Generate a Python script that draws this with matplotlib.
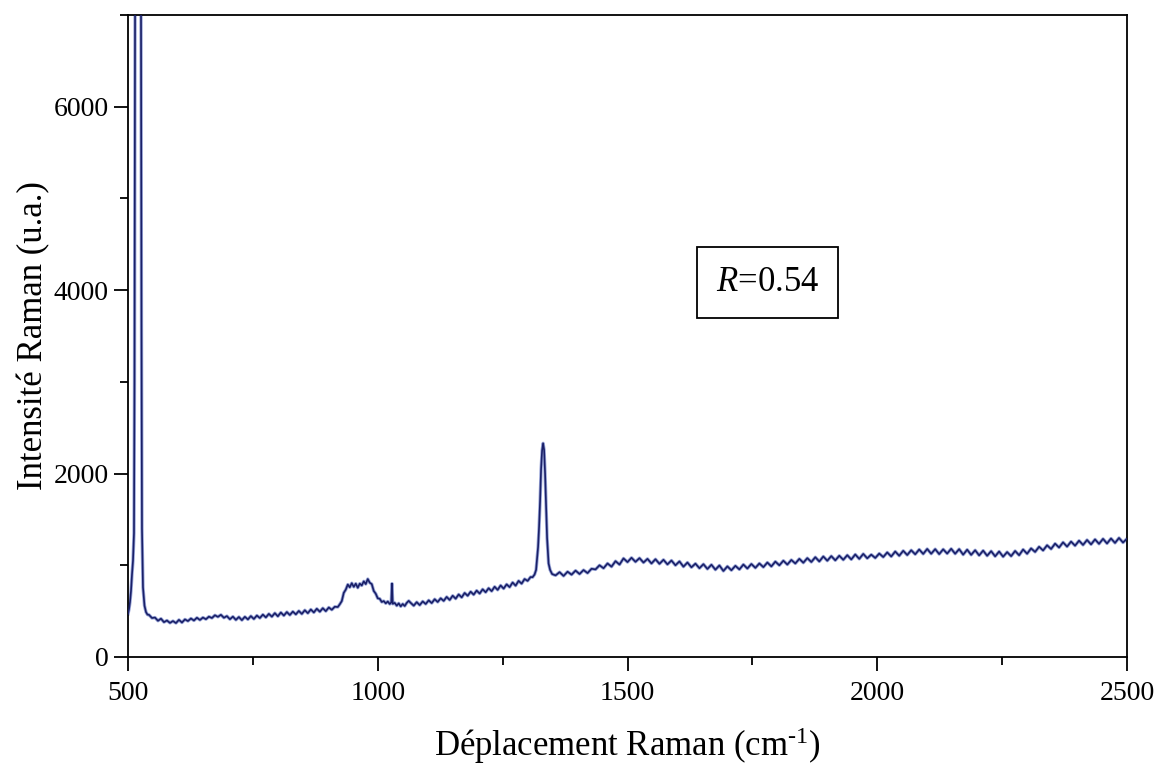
import numpy as np
import matplotlib
matplotlib.use("Agg")
import matplotlib.pyplot as plt
from matplotlib.patches import Rectangle
from matplotlib.ticker import MultipleLocator

plt.rcParams['font.family'] = ['Liberation Serif', 'DejaVu Serif']
plt.rcParams['mathtext.fontset'] = 'custom'
plt.rcParams['mathtext.rm'] = 'Liberation Serif'
plt.rcParams['mathtext.it'] = 'Liberation Serif:italic'

# ---- data ----
# Si peak (~520 cm-1), goes off-scale
si_x = [500, 502, 504, 506, 508, 510, 512, 513, 514, 516, 518, 520, 522, 524, 526, 527, 528, 530, 533, 536, 539]
si_y = [470, 520, 600, 720, 900, 1050, 1350, 3000, 6800, 11000, 13800, 14500, 13600, 11000, 7200, 3600, 1400, 760, 560, 490, 462]

# baseline 542 - 914 cm-1 (step 6)
base1_x = np.arange(542, 915, 6)
base1_y = [460, 425, 430, 395, 418, 380, 398, 372, 392, 370,
           405, 376, 410, 392, 420, 398, 428, 404, 430, 412,
           440, 425, 455, 438, 460, 428, 446, 412, 440, 405,
           436, 402, 438, 410, 446, 415, 452, 425, 462, 432,
           470, 440, 478, 444, 485, 452, 490, 458, 495, 465,
           502, 470, 510, 478, 518, 486, 526, 494, 532, 500,
           540, 515, 548]

# broad band ~950 cm-1 and narrow line ~1029 cm-1
band_x = [920, 924, 928, 932, 936, 940, 944, 948, 952, 956, 960, 964, 968, 972, 976, 980,
          984, 988, 992, 996, 1000, 1004, 1008, 1012, 1016, 1020, 1024, 1027, 1028.5, 1030,
          1034, 1038, 1042, 1046, 1050, 1054, 1058, 1062]
band_y = [545, 575, 610, 700, 735, 790, 760, 805, 765, 800, 755, 800, 780, 825, 795, 850,
          810, 795, 720, 690, 640, 635, 600, 610, 585, 605, 578, 595, 800, 580,
          590, 560, 585, 552, 578, 556, 590, 612]

# baseline 1066 - 1306 cm-1 (step 6)
base2_x = np.arange(1066, 1307, 6)
base2_y = [590, 560, 598, 566, 606, 578, 618, 588, 630, 600,
           640, 612, 655, 622, 668, 636, 682, 650, 698, 668,
           712, 680, 724, 692, 738, 706, 750, 718, 766, 732,
           780, 746, 792, 762, 812, 778, 830, 800, 850, 830,
           872]

# diamond peak (~1332 cm-1)
dia_x = [1310, 1314, 1317, 1321, 1323, 1325, 1327, 1329, 1331, 1333, 1335, 1337, 1339, 1342, 1345, 1349, 1352]
dia_y = [870, 900, 950, 1200, 1420, 1700, 2050, 2250, 2330, 2260, 2000, 1650, 1300, 1020, 950, 905, 898]

# baseline 1356 - 2500 cm-1 (step 8)
base3_x = np.arange(1356, 2501, 8)
base3_y = [890, 925, 884, 930, 898, 942, 905, 948, 915, 962,
           955, 1000, 968, 1020, 985, 1045, 1008, 1075, 1035, 1082,
           1038, 1078, 1030, 1070, 1020, 1066, 1016, 1060, 1010, 1052,
           1000, 1042, 985, 1030, 978, 1018, 968, 1012, 960, 1006,
           952, 998, 938, 988, 946, 994, 955, 1008, 965, 1014,
           972, 1020, 980, 1030, 988, 1040, 1000, 1050, 1008, 1058,
           1020, 1070, 1028, 1078, 1036, 1088, 1042, 1096, 1050, 1100,
           1054, 1104, 1060, 1110, 1064, 1118, 1070, 1124, 1076, 1116,
           1080, 1128, 1090, 1140, 1096, 1150, 1104, 1158, 1112, 1164,
           1120, 1172, 1124, 1178, 1126, 1176, 1122, 1174, 1128, 1180,
           1126, 1176, 1116, 1170, 1114, 1164, 1108, 1160, 1104, 1154,
           1098, 1150, 1094, 1144, 1100, 1156, 1110, 1172, 1126, 1184,
           1146, 1202, 1162, 1218, 1178, 1236, 1194, 1250, 1204, 1258,
           1214, 1268, 1222, 1276, 1228, 1282, 1234, 1288, 1238, 1292,
           1244, 1298, 1248, 1290]

x_ticks = [500, 1000, 1500, 2000, 2500]
y_ticks = [0, 2000, 4000, 6000]

x = np.concatenate([si_x, base1_x, band_x, base2_x, dia_x, base3_x])
y = np.concatenate([si_y, base1_y, band_y, base2_y, dia_y, base3_y])

fig = plt.figure(figsize=(11.6, 7.81), dpi=100)
ax = fig.add_axes([128/1160, 1 - 657/781, (1127-128)/1160, (657-15)/781])

ax.plot(x, y, color='#9aa6d8', lw=2.4, solid_joinstyle='round', zorder=2)
ax.plot(x, y, color='#1a2068', lw=1.2, solid_joinstyle='round', zorder=3)

ax.set_xlim(500, 2500)
ax.set_ylim(0, 7000)
ax.set_xticks(x_ticks)
ax.set_yticks(y_ticks)
ax.xaxis.set_minor_locator(MultipleLocator(250))
ax.yaxis.set_minor_locator(MultipleLocator(1000))
ax.tick_params(which='major', direction='out', length=10, width=1.3, labelsize=20, top=False, right=False)
ax.tick_params(which='minor', direction='out', length=5.5, width=1.3, top=False, right=False)
ax.tick_params(axis='x', which='major', pad=7)
ax.tick_params(axis='y', which='major', pad=4)
for s in ax.spines.values():
    s.set_linewidth(1.3)

ax.set_xlabel(r'Déplacement Raman (cm$^{\text{-1}}$)', fontsize=25, labelpad=14)
ax.set_ylabel('Intensité Raman (u.a.)', fontsize=25, labelpad=2)

ax.add_patch(Rectangle((0.5696, 0.528), 0.7107 - 0.5696, 0.6386 - 0.528,
                       transform=ax.transAxes, fill=False, edgecolor='black', lw=1.3, zorder=4))
ax.text(0.640, 0.583, r'$\mathit{R}$=0.54', transform=ax.transAxes, ha='center', va='center',
        fontsize=25, zorder=5)

fig.savefig('out.png', dpi=100)
